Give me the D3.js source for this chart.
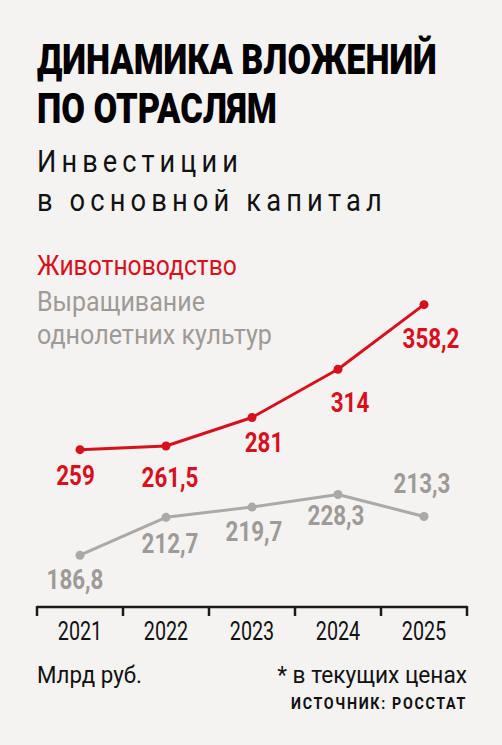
<!DOCTYPE html>
<html>
<head>
<meta charset="utf-8">
<script src="https://cdn.jsdelivr.net/npm/d3@7"></script>
<style>
  html, body { margin: 0; padding: 0; background: #f5f3f2; }
  svg { display: block; }
  text { font-family: Roboto, "Noto Sans", sans-serif; }
</style>
</head>
<body>
<div id="container"></div>
<script>
/* CONSTANTS AND GLOBALS */
const width = 502;
const height = 745;
const margin = {top: 302, bottom: 138, left: 37, right: 35};

const red = "#d7101e";
const grey = "#aca8a5";
const greyText = "#9e9a97";

/* DATA */
const years = ["2021", "2022", "2023", "2024", "2025"];
const livestock = [259, 261.5, 281, 314, 358.2];
const crops = [186.8, 212.7, 219.7, 228.3, 213.3];
const livestockLabels = ["259", "261,5", "281", "314", "358,2"];
const cropsLabels = ["186,8", "212,7", "219,7", "228,3", "213,3"];

// label nudges (layout only)
const redNudge = [[-4.5, 35], [4, 41], [12, 35], [12, 43], [7, 43]];
const greyNudge = [[-5, 34], [4, 36], [2, 34], [-2, 30], [-2, -23]];

const svg = d3.select("#container")
  .append("svg")
  .attr("width", width)
  .attr("height", height)

svg.append("rect")
  .attr("width", width)
  .attr("height", height)
  .attr("fill", "#f5f3f2")

// squeeze a text horizontally to a target width (fake condensed face)
function fit(sel, target) {
  sel.each(function() {
    const t = d3.select(this);
    const w = this.getComputedTextLength();
    const x = +t.attr("x");
    const s = target / w;
    t.attr("transform", `translate(${x},0) scale(${s},1) translate(${-x},0)`);
  });
  return sel;
}
function squeeze(sel, k) {
  sel.each(function() {
    const t = d3.select(this);
    const x = +t.attr("x");
    t.attr("transform", `translate(${x},0) scale(${k},1) translate(${-x},0)`);
  });
  return sel;
}

function addText(x, y, size, weight, color, str) {
  return svg.append("text")
    .attr("x", x).attr("y", y)
    .attr("font-size", size)
    .attr("font-weight", weight)
    .attr("fill", color)
    .text(str)
}

/* TITLES */
fit(addText(37, 74.5, 42, 900, "#000", "ДИНАМИКА ВЛОЖЕНИЙ"), 400)
fit(addText(37, 123, 42, 900, "#000", "ПО ОТРАСЛЯМ"), 240)

fit(addText(37, 172.5, 32, 400, "#111", "Инвестиции").attr("letter-spacing", 6), 206)
fit(addText(37, 211.5, 32, 400, "#111", "в основной капитал").attr("letter-spacing", 6), 350)

/* LEGEND */
fit(addText(37, 275, 28, 400, red, "Животноводство"), 200)
fit(addText(37, 311, 28, 400, greyText, "Выращивание"), 168)
fit(addText(37, 344, 28, 400, greyText, "однолетних культур"), 235)

/* SCALES */
const xScale = d3.scaleBand()
  .domain(years)
  .range([margin.left, width - margin.right])

const yScale = d3.scaleLinear()
  .domain([150, 360])
  .range([609, 302])

const cx = d => xScale(d) + xScale.bandwidth() / 2

/* AXIS */
const axisY = 607;
const xAxis = d3.axisBottom(xScale)
  .tickSize(0)

const axisG = svg.append("g")
  .attr("transform", `translate(0,${axisY})`)
  .call(xAxis)

axisG.select(".domain")
  .attr("stroke", "#1a1a1a")
  .attr("stroke-width", 2.5)
  .attr("d", `M${margin.left},0H${width - margin.right}`)

axisG.selectAll(".tick text")
  .attr("font-size", 26)
  .attr("font-family", null)
  .attr("fill", "#111")
  .attr("x", 0)
  .attr("y", 33)
  .attr("dy", null)
  .call(squeeze, 0.76)

// boundary ticks between years
const bounds = years.map(d => xScale(d)).concat([xScale(years[years.length - 1]) + xScale.bandwidth()])
axisG.selectAll(".bound")
  .data(bounds)
  .join("line")
  .attr("class", "bound")
  .attr("x1", d => d).attr("x2", d => d)
  .attr("y1", -1).attr("y2", 9)
  .attr("stroke", "#1a1a1a")
  .attr("stroke-width", 2.5)

/* LINES */
const line = d3.line()
  .x((d, i) => cx(years[i]))
  .y(d => yScale(d))

function drawSeries(values, labels, nudge, color, textColor) {
  svg.append("path")
    .datum(values)
    .attr("d", line)
    .attr("fill", "none")
    .attr("stroke", color)
    .attr("stroke-width", 3)
    .attr("stroke-linejoin", "round")

  svg.append("g").selectAll("circle")
    .data(values)
    .join("circle")
    .attr("cx", (d, i) => cx(years[i]))
    .attr("cy", d => yScale(d))
    .attr("r", 4.5)
    .attr("fill", color)

  svg.append("g").selectAll("text")
    .data(values)
    .join("text")
    .attr("x", (d, i) => cx(years[i]) + nudge[i][0])
    .attr("y", (d, i) => yScale(d) + nudge[i][1])
    .attr("text-anchor", "middle")
    .attr("font-size", 28)
    .attr("font-weight", 700)
    .attr("fill", textColor)
    .text((d, i) => labels[i])
    .call(squeeze, 0.8)
}

drawSeries(crops, cropsLabels, greyNudge, grey, greyText)
drawSeries(livestock, livestockLabels, redNudge, red, red)

/* FOOTER */
fit(addText(37, 683.5, 23.5, 400, "#111", "Млрд руб."), 105)
fit(addText(467, 683.5, 23.5, 400, "#111", "* в текущих ценах").attr("text-anchor", "end"), 190)
fit(addText(467, 709, 17, 700, "#111", "ИСТОЧНИК: РОССТАТ")
  .attr("text-anchor", "end").attr("letter-spacing", 2), 176)
</script>
</body>
</html>
